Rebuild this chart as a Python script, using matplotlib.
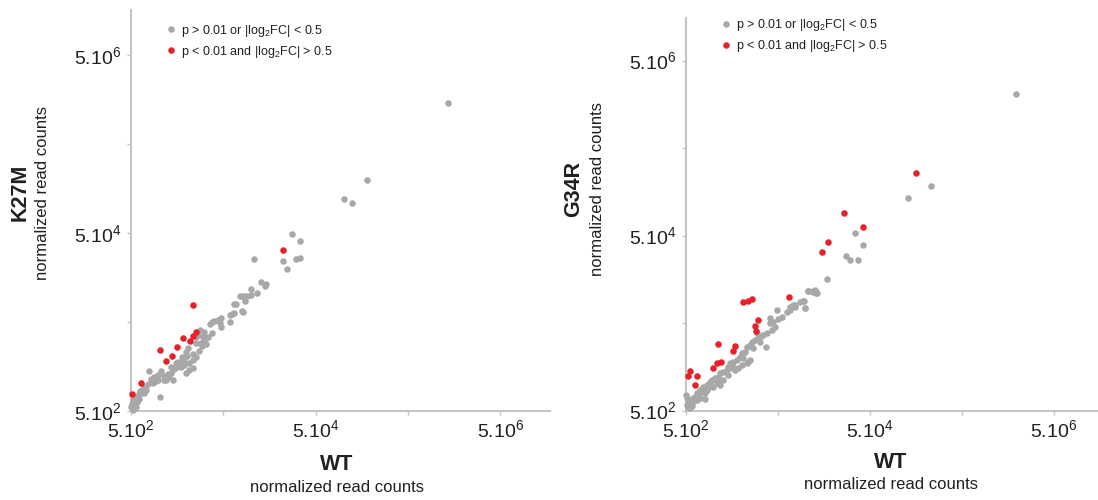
import matplotlib
matplotlib.use("Agg")
import matplotlib.pyplot as plt
import numpy as np
from matplotlib.lines import Line2D
from matplotlib.ticker import FixedLocator, NullFormatter

plt.rcParams['font.family'] = ['Liberation Sans', 'DejaVu Sans']
plt.rcParams['mathtext.fontset'] = 'custom'
plt.rcParams['mathtext.rm'] = 'Liberation Sans'
plt.rcParams['mathtext.it'] = 'Liberation Sans:italic'
plt.rcParams['mathtext.bf'] = 'Liberation Sans:bold'

# log10 of normalized read counts
k27m_grey_wt = [6.139, 5.255, 5.006, 5.096, 4.446, 4.533, 4.031, 4.341, 4.388, 4.489, 4.533, 4.107, 4.161,
                4.150, 4.002, 4.063, 3.915, 3.959, 3.930, 3.901,
                3.998, 3.918, 3.882, 3.817, 3.839, 3.908, 3.788, 3.767, 3.817, 3.767, 3.673, 3.666, 3.572,
                3.601, 3.644, 3.557, 3.673, 3.572, 3.492, 3.529, 3.474, 3.492, 3.456, 3.510, 3.464, 3.438,
                3.402, 3.427, 3.402, 3.366, 3.330, 3.366, 3.305, 3.276, 3.258, 3.222, 3.196, 3.168, 3.186,
                3.240, 3.294, 3.319, 3.366, 3.330, 3.294, 3.131, 3.095, 3.113, 3.149, 3.059, 3.023, 2.987,
                2.951, 2.915, 2.897, 2.969, 2.933, 2.879, 2.843, 2.825, 2.799, 2.788, 2.770, 2.752, 2.734,
                2.720, 2.705, 2.698, 2.727, 2.742, 2.763, 2.785, 3.016, 2.716, 2.752, 2.807, 2.861, 3.059,
                3.204, 3.247, 3.402, 3.449, 3.510, 3.240, 3.276, 3.131, 3.077, 2.987, 2.843]
k27m_grey_mut = [6.162, 5.292, 5.080, 5.035, 4.692, 4.606, 4.404, 4.389, 4.292, 4.404, 4.419, 4.151, 4.121,
                 4.102, 4.065, 4.020, 3.990, 3.990, 3.934, 3.822,
                 4.000, 3.980, 3.988, 3.898, 3.906, 3.816, 3.794, 3.779, 3.801, 3.701, 3.749, 3.689, 3.701,
                 3.712, 3.727, 3.674, 3.645, 3.570, 3.589, 3.533, 3.525, 3.488, 3.466, 3.451, 3.428, 3.376,
                 3.466, 3.551, 3.309, 3.271, 3.242, 3.339, 3.316, 3.279, 3.234, 3.212, 3.189, 3.174, 3.234,
                 3.253, 3.365, 3.402, 3.178, 3.160, 3.130, 3.130, 3.115, 3.078, 3.048, 3.092, 3.152, 3.104,
                 3.078, 3.055, 3.152, 3.040, 3.018, 3.003, 2.966, 2.943, 2.921, 2.891, 2.869, 2.854, 2.831,
                 2.809, 2.779, 2.749, 2.734, 2.768, 2.801, 2.839, 2.861, 2.712, 2.749, 2.898, 2.936, 3.048,
                 3.253, 3.309, 3.533, 3.607, 3.514, 3.197, 3.216, 3.189, 3.048, 3.048, 2.898]
k27m_red_wt = [4.341, 3.366, 3.399, 3.371, 3.341, 3.266, 3.193, 3.016, 3.139, 3.078, 2.811, 2.706]
k27m_red_mut = [4.505, 3.890, 3.588, 3.547, 3.487, 3.514, 3.413, 3.386, 3.315, 3.259, 3.016, 2.886]

g34r_grey_wt = [6.283, 5.366, 5.112, 4.536, 4.620, 4.435, 4.482, 4.569, 4.228, 4.025, 4.076, 4.105, 4.127,
                3.975, 3.866, 3.884, 3.830, 3.989,
                4.029, 4.076, 4.112, 3.982, 3.938, 3.866, 3.884, 3.830, 3.793, 3.993, 3.685, 3.739, 3.703,
                3.648, 3.612, 3.667, 3.630, 3.569, 3.583, 3.540, 3.504, 3.485, 3.449, 3.413, 3.395, 3.359,
                3.431, 3.341, 3.304, 3.286, 3.322, 3.250, 3.214, 3.177, 3.159, 3.196, 3.232, 3.268, 3.141,
                3.105, 3.069, 3.159, 3.051, 3.014, 2.978, 2.960, 3.033, 3.069, 2.924, 2.888, 2.942, 2.906,
                2.870, 2.833, 2.797, 2.779, 2.761, 2.743, 2.725, 2.706, 2.725, 2.761, 2.699, 2.714, 2.735,
                2.779, 2.815, 2.851, 3.359, 3.395, 3.304, 3.098, 2.996, 2.851, 3.376, 2.906,
                3.504, 3.467, 3.214, 3.069, 2.924, 2.815, 2.743, 3.612]
g34r_grey_mut = [6.316, 5.260, 5.131, 4.723, 4.594, 4.468, 4.415, 4.415, 4.205, 4.060, 4.068, 4.076, 4.045,
                 3.954, 3.893, 3.901, 3.878, 3.870,
                 4.068, 4.057, 4.045, 3.954, 3.942, 3.904, 3.878, 3.847, 3.828, 3.866, 3.847, 3.771, 3.740,
                 3.714, 3.695, 3.657, 3.619, 3.428, 3.580, 3.561, 3.542, 3.523, 3.504, 3.485, 3.447, 3.428,
                 3.409, 3.371, 3.352, 3.314, 3.295, 3.276, 3.257, 3.238, 3.200, 3.181, 3.161, 3.181, 3.161,
                 3.142, 3.123, 3.104, 3.085, 3.066, 3.047, 3.028, 3.009, 2.990, 2.990, 2.971, 2.952, 2.895,
                 2.914, 2.876, 2.857, 2.838, 2.819, 2.800, 2.780, 2.761, 2.735, 2.750, 2.876, 2.838, 2.723,
                 2.800, 2.895, 2.838, 3.238, 3.276, 3.219, 3.047, 2.971, 2.933, 3.250, 2.827,
                 3.485, 3.580, 3.200, 3.047, 2.933, 2.819, 2.742, 3.752]
g34r_red_wt = [5.196, 4.413, 4.620, 4.246, 4.177, 3.822, 3.315, 3.377, 3.413, 3.485, 3.449, 3.456, 3.043,
               3.232, 3.214, 3.076, 3.033, 2.996, 2.743, 2.717, 2.822, 2.797]
g34r_red_mut = [5.409, 4.956, 4.792, 4.628, 4.514, 3.992, 3.942, 3.954, 3.973, 3.733, 3.668, 3.607, 3.459,
                3.440, 3.379, 3.253, 3.238, 3.188, 3.146, 3.093, 3.093, 2.986]

major_ticks = [5e2, 5e4, 5e6]
minor_ticks = [5e3, 5e5]
tick_labels = [r'$\mathregular{5.10^{2}}$', r'$\mathregular{5.10^{4}}$', r'$\mathregular{5.10^{6}}$']
legend_labels = [r'p > 0.01 or |log$_\mathregular{2}$FC| < 0.5', r'p < 0.01 and |log$_\mathregular{2}$FC| > 0.5']

grey = '#a8a8a8'
red = '#e8202a'
axis_col = '#c4c4c4'
text_col = '#231f20'

fig = plt.figure(figsize=(10.98, 5.0), dpi=100)


def panel(rect, xmax, ymax, gx, gy, rx, ry, leg_anchor):
    ax = fig.add_axes(rect)
    ax.scatter(10 ** np.array(gx), 10 ** np.array(gy), s=22, color=grey, linewidths=0, clip_on=False, zorder=3)
    ax.scatter(10 ** np.array(rx), 10 ** np.array(ry), s=22, color=red, linewidths=0, clip_on=False, zorder=4)
    ax.set_xscale('log')
    ax.set_yscale('log')
    ax.set_xlim(500, xmax)
    ax.set_ylim(500, ymax)
    for a in (ax.xaxis, ax.yaxis):
        a.set_major_locator(FixedLocator(major_ticks))
        a.set_minor_locator(FixedLocator(minor_ticks))
        a.set_minor_formatter(NullFormatter())
    ax.set_xticklabels(tick_labels)
    ax.set_yticklabels(tick_labels)
    ax.tick_params(which='both', direction='out', length=3, width=1, color=axis_col,
                   labelsize=14, labelcolor=text_col)
    ax.tick_params(axis='y', pad=4)
    ax.tick_params(axis='x', pad=3)
    for side in ('top', 'right'):
        ax.spines[side].set_visible(False)
    for side in ('left', 'bottom'):
        ax.spines[side].set_color(axis_col)
        ax.spines[side].set_linewidth(1.5)
    handles = [Line2D([], [], marker='o', linestyle='none', markersize=4.7, markeredgewidth=0, color=grey),
               Line2D([], [], marker='o', linestyle='none', markersize=4.7, markeredgewidth=0, color=red)]
    leg = ax.legend(handles, legend_labels, loc='upper left', bbox_to_anchor=leg_anchor, frameon=False,
                    fontsize=9, handlelength=0.8, handletextpad=0.4, borderpad=0, borderaxespad=0,
                    labelspacing=0.4)
    for t in leg.get_texts():
        t.set_color(text_col)
    return ax


panel([131 / 1098, 89 / 500, 419 / 1098, 401 / 500], 10 ** 7.239, 10 ** 7.205,
      k27m_grey_wt, k27m_grey_mut, k27m_red_wt, k27m_red_mut, (0.0835, 0.968))
panel([686 / 1098, 89.5 / 500, 412 / 1098, 392.5 / 500], 10 ** 7.177, 10 ** 7.185,
      g34r_grey_wt, g34r_grey_mut, g34r_red_wt, g34r_red_mut, (0.084, 1.002))

# axis titles
fig.text(20 / 1098, 1 - 192.5 / 500, 'K27M', rotation=90, ha='center', va='center',
         fontsize=15.5, fontweight='bold', color=text_col)
fig.text(43 / 1098, 1 - 193.5 / 500, 'normalized read counts', rotation=90, ha='center', va='center',
         fontsize=12, color=text_col)
fig.text(574 / 1098, 1 - 189 / 500, 'G34R', rotation=90, ha='center', va='center',
         fontsize=15.5, fontweight='bold', color=text_col)
fig.text(597 / 1098, 1 - 189.5 / 500, 'normalized read counts', rotation=90, ha='center', va='center',
         fontsize=12, color=text_col)
fig.text(337 / 1098, 1 - 465 / 500, 'WT', ha='center', va='center',
         fontsize=15.5, fontweight='bold', color=text_col)
fig.text(337 / 1098, 1 - 487.5 / 500, 'normalized read counts', ha='center', va='center',
         fontsize=12, color=text_col)
fig.text(891 / 1098, 1 - 462 / 500, 'WT', ha='center', va='center',
         fontsize=15.5, fontweight='bold', color=text_col)
fig.text(891 / 1098, 1 - 484.5 / 500, 'normalized read counts', ha='center', va='center',
         fontsize=12, color=text_col)

fig.savefig('out.png', dpi=100)
